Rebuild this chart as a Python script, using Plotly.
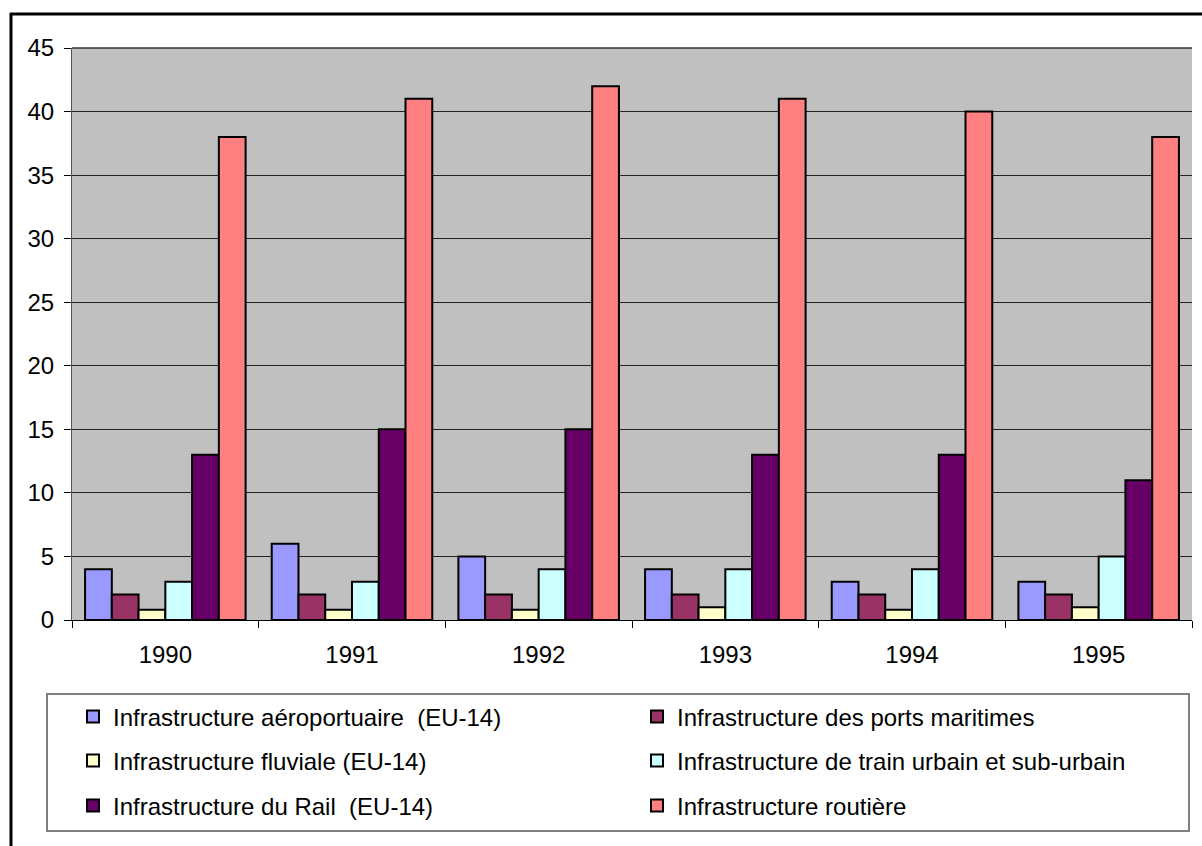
import plotly.graph_objects as go

years = ["1990", "1991", "1992", "1993", "1994", "1995"]
series_names = [
    "Infrastructure aéroportuaire  (EU-14)",
    "Infrastructure des ports maritimes",
    "Infrastructure fluviale (EU-14)",
    "Infrastructure de train urbain et sub-urbain",
    "Infrastructure du Rail  (EU-14)",
    "Infrastructure routière",
]
aero = [4, 6, 5, 4, 3, 3]
ports = [2, 2, 2, 2, 2, 2]
fluviale = [0.8, 0.8, 0.8, 1, 0.8, 1]
urbain = [3, 3, 4, 4, 4, 5]
rail = [13, 15, 15, 13, 13, 11]
routiere = [38, 41, 42, 41, 40, 38]

values = [aero, ports, fluviale, urbain, rail, routiere]
colors = ["#9999FF", "#993366", "#FFFFCC", "#CCFFFF", "#660066", "#FF8080"]

FONT = "Liberation Sans, Arial, sans-serif"

W, H = 1202, 846
L, R, T, B = 72, 10, 48, 226
pw, ph = W - L - R, H - T - B

def px_x(x):
    return (x - L) / pw

def px_y(y):
    return (H - B - y) / ph

# legend slots: (text start x, row center y) in pixels
slots = [(113, 717), (677, 717), (113, 761), (677, 761), (113, 806), (677, 806)]
legend_ids = ["legend"] + [f"legend{i}" for i in range(2, 7)]

fig = go.Figure()
for name, vals, col, lg in zip(series_names, values, colors, legend_ids):
    fig.add_trace(go.Bar(
        x=years, y=vals, name=name,
        marker=dict(color=col, line=dict(color="black", width=2)),
        legend=lg, showlegend=True,
    ))

legend_layout = {}
for lg, (tx, ty) in zip(legend_ids, slots):
    legend_layout[lg] = dict(
        x=px_x(tx - 40), y=px_y(ty), xanchor="left", yanchor="middle",
        orientation="h",
        font=dict(family=FONT, size=24, color="black"),
        bgcolor="rgba(0,0,0,0)", borderwidth=0,
        itemclick=False, itemdoubleclick=False,
        visible=True,
    )

fig.update_layout(
    width=W, height=H,
    showlegend=True,
    margin=dict(l=L, r=R, t=T, b=B),
    paper_bgcolor="white",
    plot_bgcolor="#C0C0C0",
    font=dict(family=FONT, size=24, color="black"),
    barmode="group", bargap=0.14, bargroupgap=0,
    xaxis=dict(
        type="category", tickson="boundaries",
        ticks="outside", ticklen=7, tickcolor="black", tickwidth=1,
        showline=True, linecolor="black", linewidth=1,
        showgrid=False, ticklabelstandoff=13,
        tickfont=dict(family=FONT, size=24, color="black"),
    ),
    yaxis=dict(
        range=[0, 45], dtick=5, tick0=0,
        ticks="outside", ticklen=7, tickcolor="black", tickwidth=1,
        showline=True, linecolor="#555555", linewidth=1,
        showgrid=True, gridcolor="#222222", gridwidth=1,
        zeroline=False, ticklabelstandoff=5,
        tickfont=dict(family=FONT, size=24, color="black"),
    ),
    shapes=[
        dict(type="rect", xref="paper", yref="paper",
             x0=px_x(47), x1=px_x(1189), y0=px_y(694), y1=px_y(831),
             line=dict(color="#808080", width=2), fillcolor="rgba(0,0,0,0)"),
        dict(type="line", xref="paper", yref="paper",
             x0=px_x(10), x1=px_x(1210), y0=px_y(14), y1=px_y(14),
             line=dict(color="black", width=3)),
        dict(type="line", xref="paper", yref="paper",
             x0=px_x(11), x1=px_x(11), y0=px_y(13), y1=px_y(850),
             line=dict(color="black", width=3)),
        dict(type="line", xref="paper", yref="paper",
             x0=0, x1=1, y0=1, y1=1,
             line=dict(color="#333333", width=1.5)),
    ],
    **legend_layout,
)

fig.write_html(
    "out.html",
    config={"displayModeBar": False},
    post_script="document.body.style.margin='0';document.body.style.overflow='hidden';",
)
